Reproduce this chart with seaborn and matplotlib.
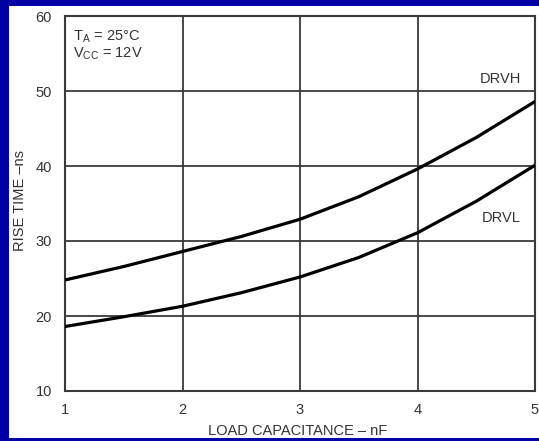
import matplotlib
matplotlib.use("Agg")
import matplotlib.pyplot as plt
import seaborn as sns
import pandas as pd
from matplotlib.patches import Rectangle

# Data
load_cap = [1.0, 1.5, 2.0, 2.5, 3.0, 3.5, 4.0, 4.5, 5.0]
drvh = [24.8, 26.6, 28.6, 30.6, 32.9, 35.9, 39.6, 43.8, 48.6]
drvl = [18.6, 19.9, 21.3, 23.1, 25.2, 27.8, 31.1, 35.3, 40.1]
x_ticks = [1, 2, 3, 4, 5]
y_ticks = [10, 20, 30, 40, 50, 60]

df = pd.DataFrame({
    "cap": load_cap * 2,
    "rise": drvh + drvl,
    "series": ["DRVH"] * len(load_cap) + ["DRVL"] * len(load_cap),
})

sns.set_style("white")
plt.rcParams["font.family"] = ["Liberation Sans", "DejaVu Sans"]

W, H = 539, 441
fig = plt.figure(figsize=(W / 100, H / 100), dpi=100)
fig.patch.set_facecolor("#0000A4")
fig.patches.append(Rectangle((9 / W, 3 / H), 530 / W, 432 / H,
                             transform=fig.transFigure, facecolor="white",
                             edgecolor="none", zorder=-10))

ax = fig.add_axes([65 / W, (H - 391) / H, (535 - 65) / W, (391 - 16) / H])
ax.set_zorder(1)
ax.set_facecolor("white")

sns.lineplot(data=df, x="cap", y="rise", hue="series",
             palette={"DRVH": "black", "DRVL": "black"},
             linewidth=2.3, legend=False, ax=ax, zorder=3)

ax.set_xlim(1, 5)
ax.set_ylim(10, 60)
ax.set_xticks(x_ticks)
ax.set_yticks(y_ticks)
ax.grid(True, color="#3a3a3a", linewidth=1.3)
for s in ax.spines.values():
    s.set_color("#3a3a3a")
    s.set_linewidth(1.5)

tc = "#333333"
fs = 10.5
ax.tick_params(axis="both", length=0, labelsize=fs, colors=tc)
ax.tick_params(axis="x", pad=9)
ax.tick_params(axis="y", pad=9.5)

ax.set_xlabel("LOAD CAPACITANCE – nF", fontsize=fs, color=tc)
ax.set_ylabel("RISE TIME –ns", fontsize=fs, color=tc)
ax.xaxis.set_label_coords(0.495, -0.088)
ax.yaxis.set_label_coords(-0.081, 0.507)

ax.text(4.88, 51.6, "DRVH", ha="right", va="center", fontsize=fs, color=tc)
ax.text(4.88, 33.1, "DRVL", ha="right", va="center", fontsize=fs, color=tc)
ax.text(1.068, 56.8, r"T$_\mathregular{A}$ = 25°C", ha="left", va="baseline",
        fontsize=fs, color=tc)
ax.text(1.068, 54.53, r"V$_\mathregular{CC}$ = 12V", ha="left", va="baseline",
        fontsize=fs, color=tc)

fig.savefig("out.png", dpi=100, facecolor=fig.get_facecolor())
